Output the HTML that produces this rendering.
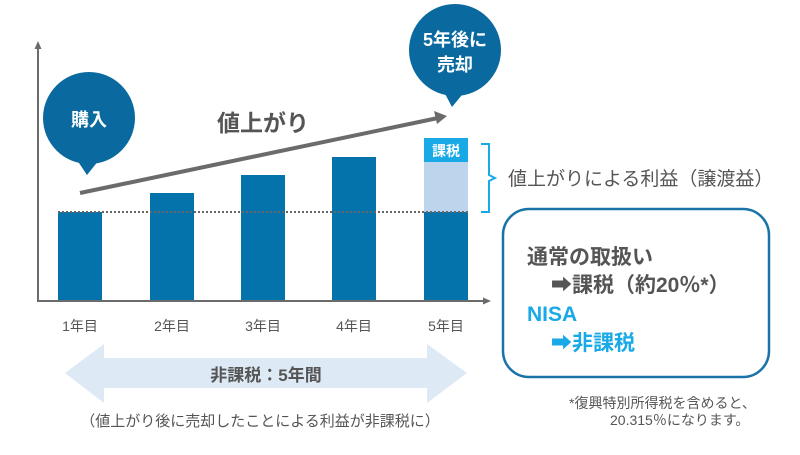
<!DOCTYPE html>
<html><head><meta charset="utf-8"><style>
body{margin:0;background:#fff}
svg text{font-family:"Liberation Sans","Noto Sans CJK JP",sans-serif;}
</style></head><body>
<svg width="800" height="450" viewBox="0 0 800 450">
<line x1="38" y1="46" x2="38" y2="301" stroke="#6b6b6b" stroke-width="2"/>
<polygon points="38,41 34.5,49 41.5,49" fill="#6b6b6b"/>
<line x1="37" y1="301" x2="486" y2="301" stroke="#6b6b6b" stroke-width="2"/>
<polygon points="491,301 483,297.5 483,304.5" fill="#6b6b6b"/>
<g fill="#0472ab">
<rect x="58" y="212" width="44" height="88"/>
<rect x="150" y="193" width="44" height="107"/>
<rect x="241" y="175" width="44" height="125"/>
<rect x="332" y="157" width="44" height="143"/>
<rect x="424" y="212" width="44" height="88"/>
</g>
<rect x="424" y="162" width="44" height="50" fill="#bcd5ec"/>
<rect x="424" y="138" width="44" height="24" fill="#19a9e6"/>
<text x="446" y="156" font-size="14" font-weight="bold" fill="#fff" text-anchor="middle">課税</text>
<line x1="58" y1="212" x2="468" y2="212" stroke="#666" stroke-width="2" stroke-dasharray="2,2"/>
<path d="M481,144 H489 V175 L495,178 L489,181 V212 H481" fill="none" stroke="#19a9e6" stroke-width="2"/>
<text x="508" y="185" font-size="19" fill="#555">値上がりによる利益（譲渡益）</text>
<line x1="80" y1="193" x2="438" y2="118" stroke="#6b6b6b" stroke-width="4"/>
<polygon points="447,116 434,111 437,124" fill="#6b6b6b"/>
<text x="263" y="131" font-size="23" font-weight="bold" fill="#555" text-anchor="middle">値上がり</text>
<circle cx="89" cy="118" r="46" fill="#0a6a9f"/>
<polygon points="77,160 99,160 87,175" fill="#0a6a9f"/>
<text x="89" y="126" font-size="18" font-weight="bold" fill="#fff" text-anchor="middle">購入</text>
<circle cx="455" cy="50" r="46" fill="#0a6a9f"/>
<polygon points="443,90 466,90 452,107" fill="#0a6a9f"/>
<text x="455" y="46" font-size="18" font-weight="bold" fill="#fff" text-anchor="middle">5年後に</text>
<text x="455" y="71" font-size="18" font-weight="bold" fill="#fff" text-anchor="middle">売却</text>
<g font-size="14" fill="#555" text-anchor="middle">
<text x="80" y="331">1年目</text><text x="172" y="331">2年目</text><text x="263" y="331">3年目</text><text x="354" y="331">4年目</text><text x="446" y="331">5年目</text>
</g>
<polygon points="65,373 104,344 104,358 427,358 427,344 467,373 427,403 427,388 104,388 104,403" fill="#dde9f5"/>
<text x="266" y="381" font-size="17" fill="#555" text-anchor="middle" font-weight="bold">非課税：5年間</text>
<text x="260" y="426" font-size="15" fill="#555" text-anchor="middle">（値上がり後に売却したことによる利益が非課税に）</text>
<rect x="503" y="209" width="266" height="168" rx="26" fill="#fff" stroke="#1a73a8" stroke-width="2.5"/>
<g font-size="21" font-weight="bold">
<text x="527" y="264" fill="#555">通常の取扱い</text>
<text x="551" y="292" fill="#555">➡課税（約20％*）</text>
<text x="527" y="321" fill="#19a9e6">NISA</text>
<text x="551" y="350" fill="#19a9e6">➡非課税</text>
</g>
<text x="569" y="408" font-size="14" fill="#555">*復興特別所得税を含めると、</text>
<text x="610" y="425" font-size="14" fill="#555">20.315％になります。</text>
</svg>
</body></html>
